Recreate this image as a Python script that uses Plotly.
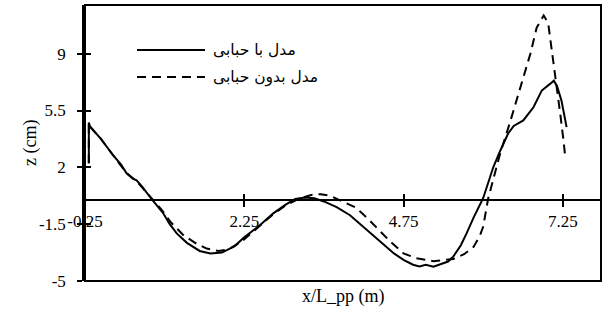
import plotly.graph_objects as go

# Series: model with bubbles (solid)
x_with = [-0.19, -0.19, -0.17, 0.0, 0.2, 0.32, 0.40, 0.5, 0.56, 0.65, 0.80, 0.9, 0.98, 1.08, 1.19,
          1.35, 1.55, 1.72, 1.9, 2.1, 2.25, 2.5, 2.7, 2.9, 3.05, 3.2, 3.35, 3.5, 3.7, 3.91,
          4.1, 4.25, 4.43, 4.6, 4.75, 4.9, 5.0, 5.1, 5.22, 5.35, 5.45, 5.53, 5.65, 5.74, 5.85,
          6.0, 6.08, 6.16, 6.27, 6.39, 6.48, 6.58, 6.63, 6.79, 6.92, 7.05, 7.11, 7.16, 7.23, 7.31]
z_with = [2.25, 4.76, 4.5, 3.75, 2.7, 2.15, 1.65, 1.3, 1.2, 0.8, 0.02, -0.45, -0.84, -1.5, -2.07,
          -2.65, -3.15, -3.3, -3.25, -2.85, -2.3, -1.55, -0.85, -0.3, 0.05, 0.15, 0.1, -0.1, -0.45, -0.95,
          -1.6, -2.15, -2.75, -3.3, -3.7, -4.0, -4.1, -4.0, -4.12, -3.95, -3.8, -3.5, -2.8, -2.07, -1.1,
          0.1, 1.0, 2.02, 3.04, 4.07, 4.55, 4.78, 4.89, 5.7, 6.73, 7.14, 7.34, 7.0, 6.1, 4.48]

# Series: model without bubbles (dashed)
x_without = [-0.19, -0.19, -0.17, 0.0, 0.2, 0.40, 0.56, 0.8, 0.95, 1.1, 1.3, 1.5, 1.66, 1.85, 2.0,
             2.2, 2.5, 2.7, 2.9, 3.1, 3.3, 3.45, 3.6, 3.8, 4.01, 4.2, 4.38, 4.55, 4.75, 4.95,
             5.11, 5.22, 5.35, 5.53, 5.7, 5.85, 5.95, 6.0, 6.08, 6.17, 6.27, 6.42, 6.58, 6.74, 6.84,
             6.95, 7.02, 7.10, 7.16, 7.21, 7.26, 7.29]
z_without = [2.25, 4.76, 4.5, 3.75, 2.7, 1.65, 1.15, 0.05, -0.6, -1.4, -2.2, -2.7, -3.0, -3.15, -3.05,
             -2.6, -1.6, -0.9, -0.35, 0.05, 0.3, 0.35, 0.25, -0.1, -0.5, -1.2, -1.9, -2.6, -3.3, -3.6,
             -3.7, -3.78, -3.72, -3.65, -3.35, -2.9, -2.2, -1.66, 0.1, 1.5, 2.9, 4.75, 6.93, 8.98, 10.6,
             11.35, 10.9, 8.6, 6.93, 5.3, 3.7, 2.6]

x_ticks = [-0.25, 2.25, 4.75, 7.25]
x_ticklabels = ["-0.25", "2.25", "4.75", "7.25"]
y_ticks = [-5, -1.5, 2, 5.5, 9]
y_ticklabels = ["-5", "-1.5", "2", "5.5", "9"]
series_names = ["مدل با حبابی", "مدل بدون حبابی"]

FONT = "Liberation Serif"
X_RANGE = [-0.25, 7.85]
Y_RANGE = [-5, 12]
zero_pos = (0 - Y_RANGE[0]) / (Y_RANGE[1] - Y_RANGE[0])

fig = go.Figure()
fig.add_trace(go.Scatter(x=x_with, y=z_with, mode="lines", name=series_names[0],
                         line=dict(color="black", width=2), showlegend=False))
fig.add_trace(go.Scatter(x=x_without, y=z_without, mode="lines", name=series_names[1],
                         line=dict(color="black", width=2, dash="9px,6px"), showlegend=False))
fig.add_trace(go.Scatter(x=[], y=[], xaxis="x2", yaxis="y2", showlegend=False))

tickfont = dict(family=FONT, size=17, color="black")
fig.update_layout(
    width=607, height=324,
    margin=dict(l=85, r=6, t=5, b=43),
    paper_bgcolor="white", plot_bgcolor="white",
    xaxis=dict(range=X_RANGE, tickvals=x_ticks, ticktext=x_ticklabels, anchor="free",
               position=zero_pos, showline=True, linecolor="black", linewidth=1.5,
               ticks="outside", ticklen=6, tickwidth=1.5, tickcolor="black",
               tickfont=tickfont, showgrid=False, zeroline=False),
    xaxis2=dict(range=X_RANGE, overlaying="x", matches="x", anchor="free", position=zero_pos,
                tickvals=x_ticks, ticks="inside", ticklen=6, tickwidth=1.5, tickcolor="black",
                showticklabels=False, showline=False, showgrid=False, zeroline=False),
    yaxis=dict(range=Y_RANGE, tickvals=y_ticks, ticktext=y_ticklabels, showline=True,
               linecolor="black", linewidth=2.5, ticks="outside", ticklen=5, tickwidth=1.5,
               tickcolor="black", tickfont=tickfont, showgrid=False, zeroline=False,
               ticklabelstandoff=8),
    yaxis2=dict(range=Y_RANGE, overlaying="y", matches="y", anchor="free", position=0,
                tickvals=y_ticks, ticks="inside", ticklen=5, tickwidth=1.5, tickcolor="black",
                showticklabels=False, showline=False, showgrid=False, zeroline=False),
    showlegend=False,
)

# plot border
fig.add_shape(type="rect", xref="paper", yref="paper", x0=0, x1=1, y0=0, y1=1,
              line=dict(color="black", width=2), layer="above")

# legend (manual, inside plot)
def px2paper(px, py):
    return (px - 85) / 516, (281 - py) / 276

for i, (py, dash) in enumerate([(50, "solid"), (77, "9px,6px")]):
    x0, y0 = px2paper(137, py)
    x1, _ = px2paper(205, py)
    fig.add_shape(type="line", xref="paper", yref="paper", x0=x0, x1=x1, y0=y0, y1=y0,
                  line=dict(color="black", width=2, dash=dash))
    tx, _ = px2paper(211, py)
    fig.add_annotation(xref="paper", yref="paper", x=tx, y=y0, text=series_names[i],
                       showarrow=False, xanchor="left", yanchor="middle",
                       font=dict(family="DejaVu Sans", size=15.5, color="black"))

# axis titles
fig.add_annotation(xref="paper", yref="paper", x=(343 - 85) / 516, y=(281 - 296) / 276,
                   text="x/L_pp (m)", showarrow=False, xanchor="center", yanchor="middle",
                   font=dict(family=FONT, size=18, color="black"))
fig.add_annotation(xref="paper", yref="paper", x=(30 - 85) / 516, y=(281 - 143) / 276,
                   textangle=-90, text="z (cm)", showarrow=False, xanchor="center",
                   yanchor="middle", font=dict(family=FONT, size=18, color="black"))

fig.write_html("out.html")
